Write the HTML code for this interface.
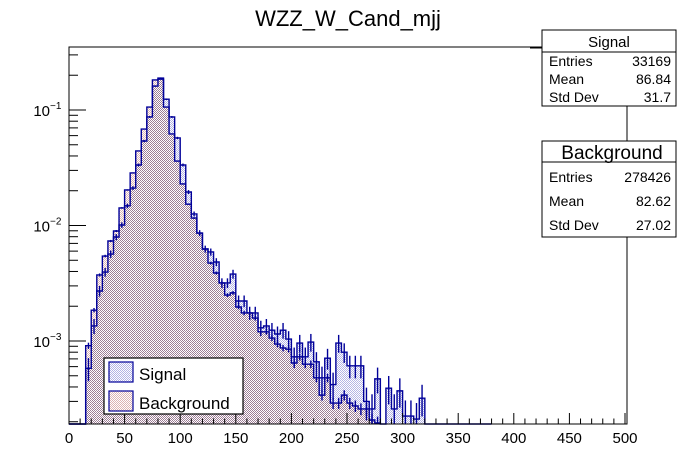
<!DOCTYPE html>
<html><head><meta charset="utf-8"><style>
body{margin:0;background:#fff;}
svg{display:block;font-family:"Liberation Sans",Arial,sans-serif;}
</style></head><body>
<svg id="c" width="696" height="472" viewBox="0 0 696 472">
<defs>
<pattern id="pPur" width="2" height="2" patternUnits="userSpaceOnUse"><rect width="2" height="2" fill="#fff"/><rect x="0" y="0" width="1" height="1" fill="#9c7c94"/><rect x="1" y="1" width="1" height="1" fill="#9c7c94"/></pattern>
<pattern id="pPink" width="2" height="2" patternUnits="userSpaceOnUse"><rect width="2" height="2" fill="#fff"/><rect x="0" y="0" width="1" height="1" fill="#dcb4b4"/><rect x="1" y="1" width="1" height="1" fill="#dcb4b4"/></pattern>
<pattern id="pBlue" width="2" height="2" patternUnits="userSpaceOnUse"><rect width="2" height="2" fill="#fff"/><rect x="0" y="0" width="1" height="1" fill="#b4b4e4"/><rect x="1" y="1" width="1" height="1" fill="#b4b4e4"/></pattern>
</defs>
<text x="348" y="26" font-size="22" text-anchor="middle">WZZ_W_Cand_mjj</text>
<g id="plot"></g>
<rect x="69" y="47" width="558" height="377" fill="none" stroke="#000" stroke-width="1"/>
<g id="axes"></g>
<g>
<rect x="104" y="358" width="139" height="56" fill="#fff" stroke="#000" stroke-width="1.2"/>
<rect x="109" y="362" width="24" height="20" fill="url(#pBlue)" stroke="#000099" stroke-width="1.2"/>
<text x="139" y="380" font-size="17">Signal</text>
<rect x="109" y="391" width="24" height="20" fill="url(#pPink)" stroke="#000099" stroke-width="1.2"/>
<text x="139" y="409" font-size="17">Background</text>
</g>
<line x1="627" y1="106" x2="627" y2="141" stroke="#000"/>
<line x1="530" y1="48" x2="542" y2="48" stroke="#000"/>
<g font-size="14">
<rect x="542" y="30" width="134" height="76" fill="#fff" stroke="#000"/>
<line x1="542" y1="52" x2="676" y2="52" stroke="#000"/>
<text x="609" y="47" text-anchor="middle" font-size="15">Signal</text>
<text x="549" y="66">Entries</text><text x="671" y="66" text-anchor="end">33169</text>
<text x="549" y="84">Mean</text><text x="671" y="84" text-anchor="end">86.84</text>
<text x="549" y="102">Std Dev</text><text x="671" y="102" text-anchor="end">31.7</text>
</g>
<g font-size="14">
<rect x="542" y="141" width="134" height="96" fill="#fff" stroke="#000"/>
<line x1="542" y1="162" x2="676" y2="162" stroke="#000"/>
<text x="612" y="159" text-anchor="middle" font-size="19">Background</text>
<text x="549" y="182">Entries</text><text x="671" y="182" text-anchor="end">278426</text>
<text x="549" y="206">Mean</text><text x="671" y="206" text-anchor="end">82.62</text>
<text x="549" y="230">Std Dev</text><text x="671" y="230" text-anchor="end">27.02</text>
</g>
</svg>
<script>
const binStart = 15;
const binWidth = 5;
const signalValues = [5.8e-4,1.35e-3,2.71e-3,3.95e-3,5.66e-3,7.95e-3,1.01e-2,1.48e-2,2.11e-2,3.34e-2,5.39e-2,8.7e-2,0.161,0.189,0.124,8.7e-2,5.73e-2,3.34e-2,1.95e-2,1.26e-2,8.6e-3,6.26e-3,5.9e-3,4.83e-3,3.18e-3,3.18e-3,3.8e-3,2.22e-3,2.22e-3,1.75e-3,1.75e-3,1.3e-3,1.35e-3,1.24e-3,1.15e-3,1.24e-3,1.04e-3,7.3e-4,9.6e-4,7.3e-4,9.8e-4,6.6e-4,4.8e-4,7.1e-4,4.2e-4,9.6e-4,8.0e-4,6.1e-4,6.1e-4,6.1e-4,3.0e-4,2.58e-4,4.7e-4,0,3.9e-4,2.58e-4,3.7e-4,2.24e-4,2.24e-4,2.11e-4,3.2e-4,0,0,0,1.2e-4,0,0,0,0,0,0,0,1.2e-4];
const backgroundValues = [9.1e-4,1.85e-3,3.73e-3,5.44e-3,7.34e-3,8.96e-3,1.42e-2,2.03e-2,2.85e-2,4.42e-2,6.84e-2,0.106,0.182,0.185,0.106,6.2e-2,3.61e-2,2.29e-2,1.53e-2,1.16e-2,8.6e-3,6.26e-3,4.73e-3,3.88e-3,3.18e-3,2.5e-3,2.61e-3,1.97e-3,1.75e-3,1.75e-3,1.58e-3,1.2e-3,1.2e-3,1.06e-3,9.4e-4,8.7e-4,8.5e-4,6.45e-4,7.3e-4,6.3e-4,6.3e-4,4.8e-4,3.4e-4,4.8e-4,2.9e-4,2.9e-4,3.4e-4,2.9e-4,2.74e-4,2.58e-4,2.58e-4,2.07e-4,1.95e-4];
const signalEntries = 33169;
const backgroundEntries = 278426;
const xTicks = [0,50,100,150,200,250,300,350,400,450,500];
const yMajor = [1e-3,1e-2,1e-1];
const yLabels = ["10","10","10"];
const yExp = ["\u22123","\u22122","\u22121"];

const NS="http://www.w3.org/2000/svg";
const X0=69,X1=627,Y0=47,YB=424;
function xs(u){return X0+(u/500)*(X1-X0-2);}
function ys(v){ if(v<=0) return YB; const y=110-115.5*(Math.log10(v)+1); return Math.max(Y0,Math.min(YB,y)); }
function mk(tag,attrs,parent){const e=document.createElementNS(NS,tag);for(const k in attrs)e.setAttribute(k,attrs[k]);parent.appendChild(e);return e;}
const plot=document.getElementById('plot');
const axes=document.getElementById('axes');
const n=Math.max(signalValues.length,backgroundValues.length);
for(let i=0;i<n;i++){
  const s=signalValues[i]||0,b=backgroundValues[i]||0;
  const xa=xs(binStart+i*binWidth),xb=xs(binStart+(i+1)*binWidth);
  const lo=Math.min(s,b),hi=Math.max(s,b);
  if(lo>0){const r=mk('rect',{x:xa,y:ys(lo),width:xb-xa,height:YB-ys(lo),fill:'url(#pPur)'},plot);
    
    }
  if(hi>lo){const r=mk('rect',{x:xa,y:ys(hi),width:xb-xa,height:ys(lo)-ys(hi),fill:s>b?'url(#pBlue)':'url(#pPink)'},plot);
    
    }
}
function stepPath(vals,name,entries){
  let d='M'+X0+','+YB+' L'+xs(binStart)+','+YB;
  for(let i=0;i<vals.length;i++){
    const xa=xs(binStart+i*binWidth),xb=xs(binStart+(i+1)*binWidth),y=ys(vals[i]);
    d+=' L'+xa+','+y+' L'+xb+','+y;
  }
  d+=' L'+xs(binStart+vals.length*binWidth)+','+YB;
  const p=mk('path',{d:d,fill:'none',stroke:'#000099','stroke-width':1.4},plot);
  
  
  const tot=vals.reduce((a,c)=>a+c,0);
  for(let i=0;i<vals.length;i++){
    const v=vals[i]; if(v<=0) continue;
    const N=v/tot*entries, err=v/Math.sqrt(Math.max(N,1));
    const xc=xs(binStart+(i+0.5)*binWidth);
    const l=mk('line',{x1:xc,x2:xc,y1:ys(v+err),y2:ys(Math.max(v-err,1e-6)),stroke:'#000099','stroke-width':1.4},plot);
    
    
  }
}
stepPath(signalValues,'signal-histogram',signalEntries);
stepPath(backgroundValues,'background-histogram',backgroundEntries);
for(let u=0;u<=500;u+=10){
  const x=xs(u),big=(u%50===0);
  mk('line',{x1:x,x2:x,y1:YB,y2:YB-(big?11:5.5),stroke:'#000'},axes);
}
xTicks.forEach(u=>{
  const t=mk('text',{x:xs(u),y:443,'font-size':15,'text-anchor':'middle'},axes);
  t.textContent=u;
  
  
});
for(let e=-4;e<=0;e++){
  for(let m=1;m<=9;m++){
    const v=m*Math.pow(10,e); const y=110-115.5*(Math.log10(v)+1);
    if(y<Y0||y>YB) continue;
    mk('line',{x1:X0,x2:X0+(m===1?17:9),y1:y,y2:y,stroke:'#000'},axes);
  }
}
yMajor.forEach((v,i)=>{
  const y=ys(v);
  const t=mk('text',{x:50,y:y+6,'font-size':15,'text-anchor':'end'},axes);
  t.textContent=yLabels[i];
  
  
  const s=mk('text',{x:50,y:y-1,'font-size':10},axes);
  s.textContent=yExp[i];
  
  
});
</script>
</body></html>
